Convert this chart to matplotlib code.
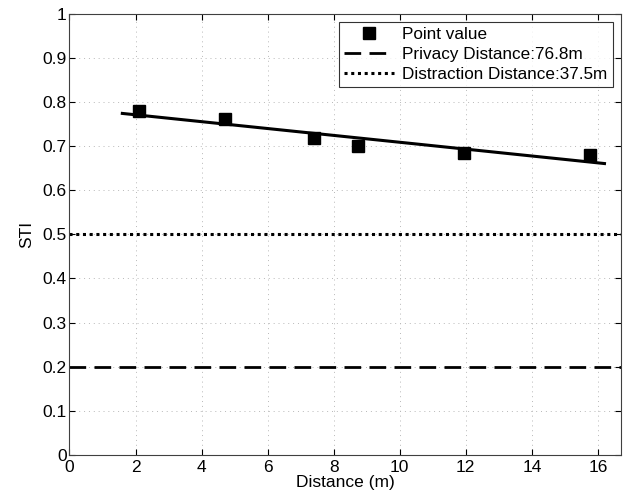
import matplotlib
matplotlib.use('Agg')
import matplotlib.pyplot as plt
import numpy as np

plt.rcParams['font.family'] = ['Liberation Sans', 'DejaVu Sans']

# measured points
dist = [2.1, 4.7, 7.4, 8.75, 11.95, 15.75]
sti = [0.779, 0.762, 0.718, 0.701, 0.685, 0.681]
fit_range = [1.6, 16.2]
privacy_sti = 0.2
distraction_sti = 0.5
xticks = [0, 2, 4, 6, 8, 10, 12, 14, 16]
yticks = [0, 0.1, 0.2, 0.3, 0.4, 0.5, 0.6, 0.7, 0.8, 0.9, 1]
ytick_labels = ['0', '0.1', '0.2', '0.3', '0.4', '0.5', '0.6', '0.7', '0.8', '0.9', '1']

fig = plt.figure(figsize=(6.26, 4.95), dpi=100)
ax = fig.add_axes([0.111, 0.081, 0.881, 0.891])

ax.plot(dist, sti, 's', color='k', markersize=8.3, label='Point value', zorder=5)

# linear fit through the points
p = np.polyfit(dist, sti, 1)
xf = np.array(fit_range)
ax.plot(xf, np.polyval(p, xf), '-', color='k', linewidth=2.2, zorder=4)

ax.axhline(privacy_sti, color='k', linestyle=(0, (6, 3)), linewidth=2,
           label='Privacy Distance:76.8m')
ax.axhline(distraction_sti, color='k', linestyle=(0, (1, 1.2)), linewidth=2.2,
           label='Distraction Distance:37.5m')

ax.set_xlim(0, 16.7)
ax.set_ylim(0, 1)
ax.set_xticks(xticks)
ax.set_yticks(yticks)
ax.set_yticklabels(ytick_labels)
ax.grid(True, linestyle=(0, (1, 4)), color='#b8b8b8', linewidth=0.7)
ax.tick_params(direction='in', length=4, labelsize=12.5, top=True, right=True, pad=2)
ax.tick_params(axis='x', pad=4)
for s in ax.spines.values():
    s.set_linewidth(0.8)
    s.set_color('#404040')

ax.set_xlabel('Distance (m)', fontsize=12.5, labelpad=0)
ax.set_ylabel('STI', fontsize=12.5, labelpad=6)

leg = ax.legend(loc='upper right', bbox_to_anchor=(0.985, 0.982), fontsize=12.3,
                frameon=True, fancybox=False, edgecolor='k', handlelength=2.9,
                handletextpad=0.5, borderpad=0.3, labelspacing=0.3, borderaxespad=0)
leg.get_frame().set_linewidth(0.8)

fig.savefig('out.png', dpi=100)
